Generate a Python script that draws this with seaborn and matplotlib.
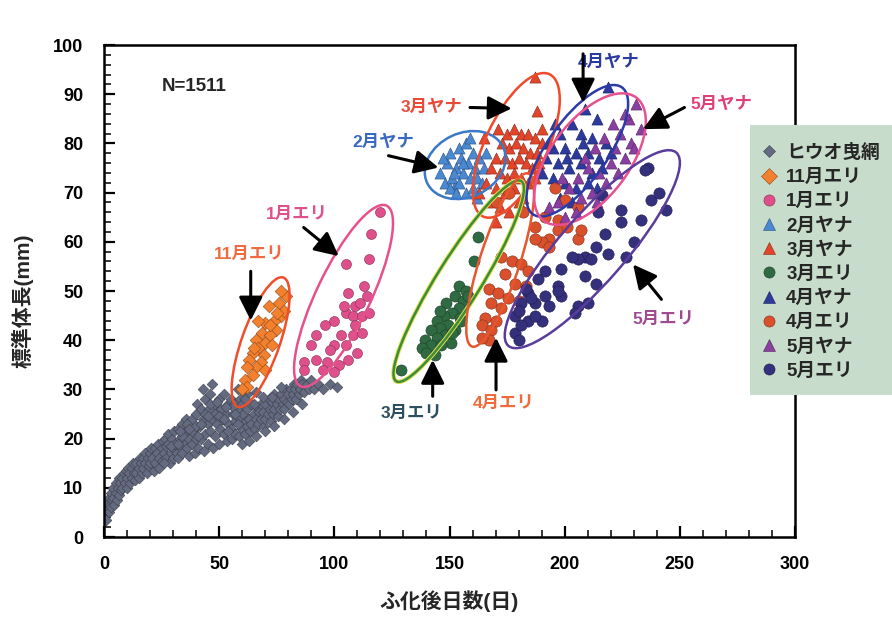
"""ヒウオの日齢と標準体長 (ふ化後日数 vs 標準体長) scatter with catch-group ellipses."""

import matplotlib

matplotlib.use("Agg")

import matplotlib.pyplot as plt
import pandas as pd
import seaborn as sns
from matplotlib import transforms
from matplotlib.lines import Line2D
from matplotlib.patches import Ellipse, Rectangle
from matplotlib.ticker import MultipleLocator

# ---------------------------------------------------------------- data
trawl_day = [
    0, 0, 0.5, 1, 1, 1.5, 2, 2, 2.5, 3, 3, 3.5, 4, 4, 4.5, 5, 5, 5.5, 6, 6.5, 6.5, 7, 7.5, 8, 8, 8.5, 9, 9.5,
    10, 10, 10.5, 11, 11.5, 12, 12, 12.5, 13, 13.5, 14, 14, 15, 15, 15.5, 16, 16.5, 17, 17, 18, 18, 18.5, 19, 19.5,
    20, 20, 20.5, 21, 21.5, 22, 22, 23, 23.5, 24, 24, 25, 25, 25.5, 26, 26.5, 27, 27, 28, 28, 28.5, 29, 29.5,
    30, 30, 30.5, 31, 31.5, 32, 32, 33, 33.5, 34, 34, 35, 35, 35.5, 36, 36.5, 37, 37, 38, 38, 39, 39.5,
    40, 40, 40.5, 41, 41.5, 42, 42, 43, 43.5, 44, 44, 45, 45, 45.5, 46, 46, 47, 47, 47.5, 48, 48, 49, 49.5,
    50, 50, 50.5, 51, 51.5, 52, 52, 53, 53.5, 54, 54, 55, 55, 55.5, 56, 56.5, 57, 57, 58, 58.5, 59, 59,
    60, 60, 60.5, 61, 61.5, 62, 62, 63, 63.5, 64, 64, 65, 65.5, 66, 66.5, 67, 67.5, 68, 68, 69, 69.5,
    70, 70, 71, 71.5, 72, 72.5, 73, 73.5, 74, 74, 75, 75.5, 76, 76.5, 77, 77.5, 78, 78, 79, 79.5,
    80, 80.5, 81, 81.5, 82, 82.5, 83, 83.5, 84, 84.5, 85, 85.5, 86, 87, 88, 89, 90, 91, 93, 95, 98, 101,
    58, 62, 66, 43, 60, 63, 66, 70, 74, 78, 82, 86,
    26, 29, 32, 34, 36, 38, 40, 42, 44, 46, 48, 50, 52, 54, 56, 58,
    33, 37, 41, 45, 49, 53, 57, 61, 65, 69, 73, 77,
]
trawl_len = [
    4, 6, 5, 3.5, 7, 5.5, 5, 8, 6.5, 6, 9, 7.5, 8, 10, 6.5, 9, 11, 7.5, 10, 8.5, 12, 11, 9.5, 12, 10, 13, 11, 13.5,
    12, 10, 14, 13, 11, 14, 12, 15, 13, 11.5, 15, 13, 14, 12, 16, 15, 13, 16, 14, 17, 15, 13, 16, 14.5,
    17, 15, 18, 16, 13.5, 18, 15, 17, 19, 16, 14, 18, 15.5, 19.5, 17, 20, 16, 18.5, 19, 21, 15, 17, 20,
    18, 16, 21.5, 19, 17, 22, 16, 20, 18, 23, 17, 21, 19, 24, 18, 22, 20, 16.5, 24, 19, 22, 17,
    25, 20, 27, 18, 22.5, 26, 20, 24, 17.5, 28, 21, 23, 19, 26, 29, 21.5, 31, 24, 18, 27, 20.5, 23, 25.5,
    28, 19, 22, 26, 24, 21, 29, 25, 19.5, 27, 23, 22, 28, 20, 25, 27, 21, 23.5, 26, 20.5, 24, 28,
    22, 27, 25, 21, 23.5, 26, 22.5, 24, 21.5, 27, 23, 25, 22, 24, 26.5, 23, 25.5, 27, 24, 25.5, 22.5,
    27, 24, 25, 28, 26, 23.5, 27.5, 25, 26, 29, 27, 24.5, 28, 26, 29, 27, 28, 26, 30, 27.5,
    29, 27, 30, 28, 29, 31, 30, 28, 31, 29, 30, 32, 31, 29.5, 31, 30, 32, 30, 31, 30, 31, 30.5,
    30, 29, 29.5, 30, 19, 19.5, 20.5, 21.5, 22.5, 24, 25.5, 27,
    15, 18.5, 19, 20.5, 23, 21.5, 22.5, 23, 25, 27, 25, 24.5, 24, 21.5, 26.5, 23,
    21.5, 22, 20.5, 24.5, 27.5, 26.5, 25, 28, 27, 28.5, 28.5, 30.5,
]

nov_eri_day = [79, 76, 71.5, 77, 74, 70, 74.5, 68.5, 72, 66, 70, 67, 73, 64.5, 69.5,
               63, 68, 66, 62, 70, 64.5, 61, 62, 60, 78, 77, 72, 75, 67, 65]
nov_eri_len = [49, 47.5, 47, 45, 44, 43.5, 42, 41.5, 41, 40, 39.5, 38.5, 39, 37.5, 37,
               36, 35.5, 34.5, 34.5, 34, 33, 32, 30.5, 30, 46, 50, 43, 45.5, 44, 38.5]

jan_eri_day = [120, 116, 115, 105, 113, 106, 114, 109, 105, 108, 112, 100, 96, 109, 103, 108, 112,
               92, 90, 100, 105, 87, 92, 97, 102, 106, 95, 87, 100, 110, 115, 111, 98, 104]
jan_eri_len = [66, 61.5, 56.5, 55.5, 51, 49.5, 49, 47, 45.5, 45, 45, 44, 43, 43, 41, 41, 41.5,
               41, 39, 39, 39, 35.5, 36, 35.5, 35, 36, 34, 34, 33.5, 37.5, 45.5, 47.5, 38, 47]

feb_yana_day = [146, 148, 149, 150, 151, 152, 153, 154, 154, 155, 156, 157, 158, 159, 160,
                160, 161, 162, 163, 164, 165, 166, 150, 157, 162, 147, 153, 156, 159, 152]
feb_yana_len = [74, 72, 76, 78, 73, 71, 75, 79, 72, 77, 74, 70, 76, 73, 78,
                71, 75, 73, 77, 72, 75, 78, 71, 80, 69, 77, 70, 76, 81, 74]

mar_yana_day = [187, 188, 171, 175, 178, 181, 184, 187, 190, 173, 176, 179, 182, 185, 188,
                170, 174, 177, 180, 183, 186, 189, 168, 172, 175, 178, 181, 184, 187,
                166, 170, 174, 178, 182, 168, 172, 176, 165, 190, 163, 180, 170]
mar_yana_len = [93.5, 86.5, 83, 82, 83, 82, 82, 81, 80, 80, 79, 80, 79, 78, 78,
                77, 77, 76, 77, 76, 75, 76, 75, 74, 73, 74, 73, 72, 73,
                72, 71, 70, 71, 69, 68, 67, 66, 81, 83, 70, 68, 64]

mar_eri_day = [162.5, 160.5, 154, 157, 152.5, 156, 148.5, 154, 151, 147.5,
               154.5, 144.5, 149.5, 146, 152.5, 142, 148, 144.5, 139.5, 150.5,
               142, 146.5, 138, 129, 158, 146, 140, 143.5, 151, 155]
mar_eri_len = [61, 56, 51, 50, 49, 48, 47.5, 46.5, 45.5, 45,
               44.5, 44, 43, 42.5, 42, 42, 41, 40.5, 40, 39.5,
               39, 39, 38.5, 34, 49, 46, 37.5, 37, 41.5, 44]

apr_yana_day = [219, 209, 214, 203, 198, 207, 212, 218, 195, 200, 205, 210, 215, 192, 197, 202,
                207, 212, 216, 190, 195, 200, 205, 210, 198, 203, 193, 208, 220, 201, 196, 214]
apr_yana_len = [91.5, 87, 85, 84, 82, 82, 81, 80, 79, 79, 78, 78, 77, 77, 76, 75,
                76, 74, 75, 74, 73, 72, 71, 72, 69, 68, 80, 80, 78, 77, 84, 71]

apr_eri_day = [172.5, 177, 181, 184, 174, 178.5, 167, 171, 183, 175.5,
               168, 180, 172.5, 165.5, 170, 164, 168, 167, 164, 187,
               193, 190, 197, 206, 207, 196, 200, 206, 191.5, 197,
               187, 193, 170, 176, 182, 201]
apr_eri_len = [57, 56, 55.5, 54, 53.5, 51.5, 50.5, 49.5, 51, 48.5,
               47.5, 48, 46.5, 44.5, 44, 43, 42, 40, 40.5, 63,
               60.5, 60, 62.5, 60.5, 62.5, 71, 68.5, 67, 65, 64.5,
               60.5, 59, 68, 70, 66, 63]

may_yana_day = [231, 228, 233, 224, 229, 222, 217, 213, 226, 220, 215, 210, 206, 218,
                223, 212, 207, 202, 197, 193, 200, 205, 230, 226, 209, 214, 199, 221]
may_yana_len = [88, 85, 83, 82, 80, 79, 81, 79, 77, 76, 74, 75, 73, 72,
                74, 70, 69, 71, 68, 67, 65, 66, 79, 86, 77, 68, 73, 84]

may_eri_day = [236, 237.5, 244, 233, 224.5, 224.5, 216, 214.5, 217.5, 213.5,
               209, 219, 226.5, 206, 211.5, 203, 198.5, 209, 191.5, 213.5,
               188.5, 197, 184, 191.5, 181, 187, 198.5, 178.5, 206, 184,
               204.5, 178.5, 190, 210, 180, 183, 185.5, 193, 180, 197,
               187, 181, 235, 241, 230]
may_eri_len = [75, 68.5, 66.5, 64.5, 64, 66.5, 69.5, 66, 61.5, 59,
               57, 57.5, 57, 56.5, 56.5, 57, 54.5, 53, 54, 51.5,
               52.5, 51, 49.5, 49, 47.5, 47.5, 49, 45, 47, 44,
               45.5, 41.5, 44, 47.5, 40, 50.5, 48.5, 47, 46, 50,
               45, 43, 74.5, 70, 60]

group_labels = ["ヒウオ曳網", "11月エリ", "1月エリ", "2月ヤナ", "3月ヤナ",
                "3月エリ", "4月ヤナ", "4月エリ", "5月ヤナ", "5月エリ"]
x_ticks = [0, 50, 100, 150, 200, 250, 300]
y_ticks = [0, 10, 20, 30, 40, 50, 60, 70, 80, 90, 100]

# ---------------------------------------------------------------- style
FONTS = ["Liberation Sans", "Noto Sans CJK JP", "DejaVu Sans"]
STYLE = {
    "ヒウオ曳網": dict(marker="D", color="#646b80", s=30),
    "11月エリ": dict(marker="D", color="#f2802e", s=42),
    "1月エリ": dict(marker="o", color="#df4f8b", s=52),
    "2月ヤナ": dict(marker="^", color="#4a88d2", s=64),
    "3月ヤナ": dict(marker="^", color="#e2452a", s=64),
    "3月エリ": dict(marker="o", color="#2f6a42", s=64),
    "4月ヤナ": dict(marker="^", color="#2c3a9e", s=64),
    "4月エリ": dict(marker="o", color="#d9502c", s=66),
    "5月ヤナ": dict(marker="^", color="#8a3fa0", s=64),
    "5月エリ": dict(marker="o", color="#35307c", s=66),
}

# ellipses: centre (day, mm), length / width in pixels, visual angle, colour
ELLIPSES = [
    ((68.0, 39.6), 137, 38, 70.6, "#f04e2a"),
    ((104.0, 49.0), 200, 54, 64.5, "#e8508c"),
    ((156.8, 75.6), 84, 64, 25, "#3a78c8"),
    ((179.0, 79.6), 157, 62, 65, "#f04a2a"),
    ((154.0, 52.0), 236, 44, 58, "#3c8c3c"),
    ((172.0, 56.3), 182, 40, 72, "#e8562e"),
    ((205.5, 78.5), 155, 60, 55, "#2a3aa8"),
    ((211.0, 76.8), 154, 78, 53, "#e85090"),
    ((212.0, 58.5), 256, 66, 49, "#5a3c9c"),
]

# annotation labels: text, position, colour
LABELS = [
    ("11月エリ", (63.0, 57.4), "#f06a40"),
    ("1月エリ", (83.5, 65.6), "#e0508a"),
    ("2月ヤナ", (121.4, 80.2), "#3a6ac0"),
    ("3月ヤナ", (142.0, 87.3), "#e84a3a"),
    ("4月ヤナ", (219.0, 96.6), "#2a3aa0"),
    ("5月ヤナ", (268.0, 88.0), "#e0407a"),
    ("3月エリ", (133.6, 25.2), "#2b4f5e"),
    ("4月エリ", (173.7, 27.2), "#f06a3a"),
    ("5月エリ", (243.0, 44.2), "#a04a90"),
]

# arrows: tail -> tip in data coordinates
ARROWS = [
    ((63.7, 54.0), (63.7, 44.0)),
    ((86.7, 62.9), (101.9, 57.1)),
    ((123.5, 77.5), (145.2, 75.1)),
    ((158.9, 87.3), (177.0, 87.1)),
    ((208.0, 98.2), (208.0, 88.3)),
    ((252.0, 87.3), (234.0, 82.9)),
    ((142.7, 28.6), (142.7, 36.0)),
    ((170.2, 29.9), (170.2, 40.5)),
    ((242.0, 48.3), (229.7, 55.4)),
]

FIG_W, FIG_H = 892, 619
AX_RECT = [104 / FIG_W, (FIG_H - 537) / FIG_H, 691 / FIG_W, 492 / FIG_H]


def build_frame():
    """Long-form frame with one row per fish."""
    series = [
        (trawl_day, trawl_len), (nov_eri_day, nov_eri_len), (jan_eri_day, jan_eri_len),
        (feb_yana_day, feb_yana_len), (mar_yana_day, mar_yana_len), (mar_eri_day, mar_eri_len),
        (apr_yana_day, apr_yana_len), (apr_eri_day, apr_eri_len), (may_yana_day, may_yana_len),
        (may_eri_day, may_eri_len),
    ]
    frames = []
    for label, (days, lens) in zip(group_labels, series):
        frames.append(pd.DataFrame({"day": days, "length": lens, "group": label}))
    return pd.concat(frames, ignore_index=True)


def darker(hex_color, f=0.6):
    r, g, b = (int(hex_color[i:i + 2], 16) for i in (1, 3, 5))
    return "#{:02x}{:02x}{:02x}".format(int(r * f), int(g * f), int(b * f))


def main():
    sns.set_theme(style="ticks")
    plt.rcParams["font.family"] = FONTS
    plt.rcParams["font.weight"] = "bold"

    df = build_frame()

    fig = plt.figure(figsize=(FIG_W / 100, FIG_H / 100), dpi=100)
    fig.patch.set_facecolor("white")
    ax = fig.add_axes(AX_RECT)
    ax.set_facecolor("white")

    for label in group_labels:
        st = STYLE[label]
        sub = df[df["group"] == label]
        sns.scatterplot(data=sub, x="day", y="length", ax=ax, marker=st["marker"],
                        color=st["color"], s=st["s"], edgecolor=darker(st["color"]),
                        linewidth=0.4, legend=False, zorder=2)

    ax.set_xlim(0, 300)
    ax.set_ylim(0, 100)

    # pixel-sized ellipses placed at data centres
    ppd = AX_RECT[2] * FIG_W / 300
    ppm = AX_RECT[3] * FIG_H / 100
    for (cx, cy), length, width, angle, color in ELLIPSES:
        tr = transforms.Affine2D().scale(1 / ppd, 1 / ppm).translate(cx, cy) + ax.transData
        if color == "#3c8c3c":
            ax.add_patch(Ellipse((0, 0), length, width, angle=angle, transform=tr,
                                 fill=False, edgecolor="#e4e04a", lw=3.2, zorder=3))
        ax.add_patch(Ellipse((0, 0), length, width, angle=angle, transform=tr,
                             fill=False, edgecolor=color, lw=1.8, zorder=3))

    for text, (x, y), color in LABELS:
        ax.text(x, y, text, color=color, fontsize=12.5, fontweight="bold",
                ha="center", va="center", zorder=4)

    for tail, tip in ARROWS:
        ax.annotate("", xy=tip, xytext=tail, zorder=5,
                    arrowprops=dict(arrowstyle="-|>", color="black", lw=2.2,
                                    mutation_scale=36, shrinkA=0, shrinkB=0))

    ax.text(25.0, 91.5, "N=1511", fontsize=13.5, fontweight="bold", ha="left", va="center")

    ax.set_xticks(x_ticks)
    ax.set_yticks(y_ticks)
    ax.xaxis.set_minor_locator(MultipleLocator(10))
    ax.yaxis.set_minor_locator(MultipleLocator(2))
    ax.tick_params(which="major", direction="in", length=8, width=1.6, labelsize=13,
                   colors="black", top=False, right=False)
    ax.tick_params(axis="y", which="major", pad=15)
    ax.tick_params(axis="x", which="major", pad=14)
    ax.tick_params(which="minor", direction="in", length=5, width=1.3, top=False, right=False)
    for lab in ax.get_xticklabels() + ax.get_yticklabels():
        lab.set_fontweight("bold")
    for spine in ax.spines.values():
        spine.set_linewidth(1.8)
        spine.set_color("black")

    ax.set_xlabel("ふ化後日数(日)", fontsize=15, fontweight="bold")
    ax.set_ylabel("標準体長(mm)", fontsize=15, fontweight="bold")
    ax.xaxis.set_label_coords(0.5, -0.108)
    ax.yaxis.set_label_coords(-0.102, 0.48)

    # legend panel (runs off the right edge like the scan)
    fig.add_artist(Rectangle((750 / FIG_W, (FIG_H - 395) / FIG_H), 0.2, 270 / FIG_H,
                             transform=fig.transFigure, facecolor="#c8dccb",
                             edgecolor="none", zorder=2))
    handles = [Line2D([], [], linestyle="none", marker=STYLE[g]["marker"],
                      markerfacecolor=STYLE[g]["color"], markeredgecolor=darker(STYLE[g]["color"]),
                      markeredgewidth=0.4, markersize=6 if g == "ヒウオ曳網" else 8)
               for g in group_labels]
    leg = fig.legend(handles, group_labels, loc="upper left",
                     bbox_to_anchor=(760 / FIG_W, (FIG_H - 144) / FIG_H),
                     frameon=False, borderpad=0, borderaxespad=0, handlelength=1.0,
                     handletextpad=0.4, labelspacing=0.37,
                     prop=dict(family=FONTS, weight="bold", size=13.5))
    leg.set_zorder(6)

    fig.savefig("out.png", dpi=100)
    plt.close(fig)


if __name__ == "__main__":
    main()
